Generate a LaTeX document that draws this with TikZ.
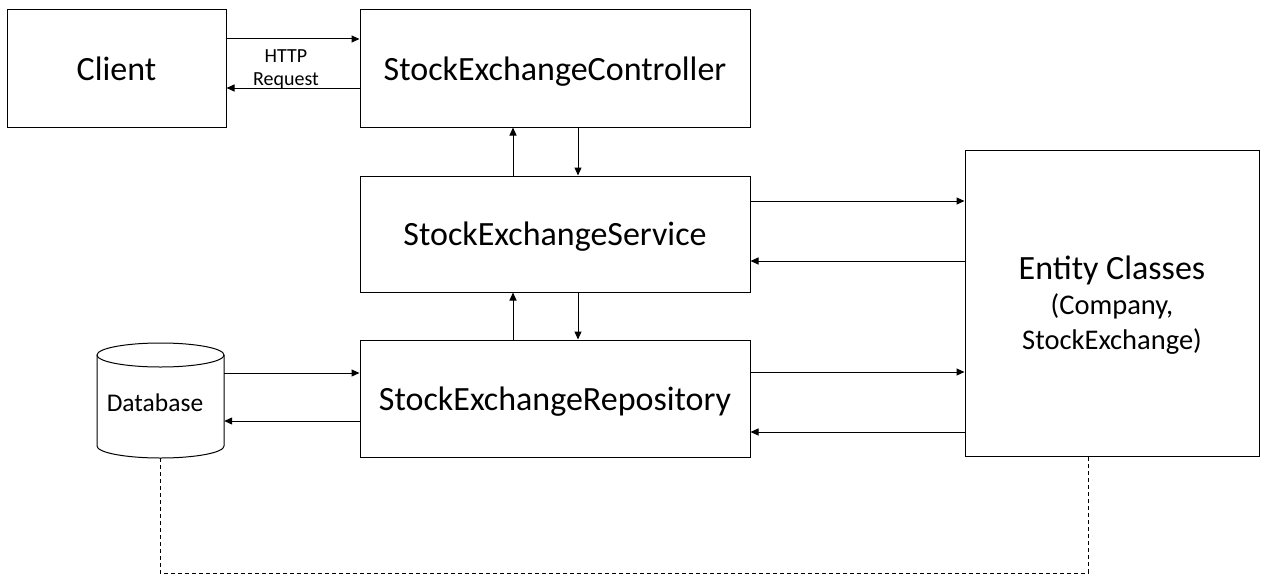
\documentclass[tikz,border=0pt]{standalone}
\usepackage{fontspec}
\setmainfont{Carlito}
\usetikzlibrary{arrows.meta,shapes.geometric}
\begin{document}
\begin{tikzpicture}[x=1pt,y=-1pt,
  box/.style={draw,line width=1pt,inner sep=0pt},
  big/.style={font=\fontsize{34}{40}\selectfont,text depth=0pt},
  conn/.style={line width=1pt,-{Triangle[length=8pt,width=7pt]}},
  dashline/.style={line width=0.8pt,dash pattern=on 4pt off 3pt}]
\useasboundingbox (0,0) rectangle (1265,586);
\node[box,minimum width=219pt,minimum height=117pt,big] (client) at (116.5,68.5) {Client};
\node[box,minimum width=390pt,minimum height=117pt,big] (ctrl) at (555,68.5) {StockExchangeController};
\node[box,minimum width=390pt,minimum height=116pt,big] (svc) at (555,234) {StockExchangeService};
\node[box,minimum width=390pt,minimum height=117pt,big] (repo) at (555,398.5) {StockExchangeRepository};
\node[box,minimum width=294pt,minimum height=306pt] (ent) at (1112,303) {};
\node[align=center,font=\fontsize{28.5}{35}\selectfont] (entl) at (1112,305) {{\fontsize{34}{35}\selectfont Entity Classes}\\(Company,\\StockExchange)};
% database cylinder
\node[minimum width=127pt,minimum height=117pt,inner sep=0pt] (db) at (160.5,399.5) {};
\draw[line width=1pt] (97,355) -- (97,446) arc[start angle=180,end angle=360,x radius=63.5pt,y radius=12pt] -- (224,355);
\draw[line width=1pt] (160.5,355) ellipse[x radius=63.5pt,y radius=12pt];
\node[font=\fontsize{25.5}{30}\selectfont] (dbl) at (155,403) {Database};
\node[font=\fontsize{20}{23}\selectfont,align=center] (http) at (286,69) {HTTP\\Request};
% connectors
\coordinate (a1) at (client.east |- 0,39);
\draw[conn] (a1) -- (ctrl.west |- a1);
\coordinate (a2) at (ctrl.west |- 0,88);
\draw[conn] (a2) -- (client.east |- a2);
\draw[conn] (svc.north -| 513,0) -- (ctrl.south -| 513,0);
\draw[conn] (ctrl.south -| 578,0) -- (svc.north -| 578,0);
\draw[conn] (repo.north -| 513,0) -- (svc.south -| 513,0);
\draw[conn] (svc.south -| 578,0) -- (repo.north -| 578,0);
\draw[conn] (svc.east |- 0,201) -- (ent.west |- 0,201);
\draw[conn] (ent.west |- 0,261) -- (svc.east |- 0,261);
\draw[conn] (repo.east |- 0,372) -- (ent.west |- 0,372);
\draw[conn] (ent.west |- 0,432) -- (repo.east |- 0,432);
\draw[conn] (db.east |- 0,373) -- (repo.west |- 0,373);
\draw[conn] (repo.west |- 0,421) -- (db.east |- 0,421);
\coordinate (d1) at (160,573);
\coordinate (d2) at (1088,573);
\draw[dashline] (160,458) -- (d1) -- (d2) -- (ent.south -| d2);
\end{tikzpicture}
\end{document}
